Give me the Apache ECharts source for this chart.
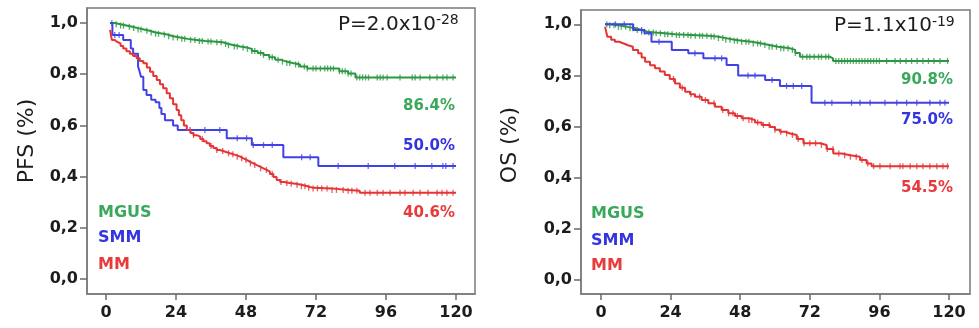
<!DOCTYPE html>
<html>
<head>
<meta charset="utf-8">
<script src="https://cdn.jsdelivr.net/npm/echarts@6/dist/echarts.min.js"></script>
<style>
  html, body { margin: 0; padding: 0; background: #fff; }
  #chart { width: 979px; height: 328px; }
</style>
</head>
<body>
<div id="chart"></div>
<script>
// Kaplan-Meier step points: [month, survival], plus censoring times (months)
const xTicks = [0, 24, 48, 72, 96, 120];
const yTicks = [0, 0.2, 0.4, 0.6, 0.8, 1.0];
const groups = ['MGUS', 'SMM', 'MM'];

// Progression-free survival
const pfsMgus = [[1.4,1],[3,0.995],[5,0.99],[7,0.985],[9,0.98],[11,0.975],[13,0.97],[15,0.963],[17,0.958],[19.6,0.955],[21,0.948],[23,0.943],[25.4,0.938],[28,0.934],[31,0.93],[34,0.928],[36.8,0.925],[40,0.918],[42,0.913],[44,0.908],[46,0.904],[48.2,0.899],[50,0.891],[52,0.883],[54,0.875],[56,0.866],[58,0.856],[60,0.849],[62,0.844],[64,0.838],[66.5,0.83],[69,0.822],[80,0.812],[83,0.803],[85.5,0.787],[120,0.787]];
const pfsSmm = [[1.4,1],[2.2,0.953],[5.9,0.934],[8.5,0.9],[9.3,0.88],[11,0.83],[11.4,0.815],[12,0.79],[12.8,0.738],[13.9,0.719],[15.5,0.70],[17,0.69],[18.3,0.668],[19,0.645],[20.2,0.62],[23,0.60],[24.6,0.582],[41.4,0.55],[50,0.523],[60.8,0.476],[72.8,0.441],[120,0.441]];
const pfsMm = [[1.4,0.973],[2,0.934],[3,0.927],[3.7,0.92],[5,0.91],[5.9,0.9],[7,0.89],[8.2,0.88],[9.3,0.871],[10.5,0.862],[11.6,0.852],[12.8,0.843],[14,0.826],[15.1,0.81],[16.2,0.793],[17.4,0.777],[18.5,0.761],[19.6,0.745],[20.8,0.726],[21.9,0.706],[23,0.683],[24.2,0.66],[25,0.64],[25.8,0.62],[26.7,0.6],[27.7,0.582],[29,0.57],[30,0.562],[31.1,0.556],[32.3,0.547],[33.4,0.538],[34.5,0.53],[35.6,0.52],[36.8,0.512],[37.9,0.504],[39,0.5],[40.2,0.495],[41.4,0.491],[42.5,0.487],[43.7,0.483],[44.8,0.478],[46,0.471],[47.1,0.465],[48.2,0.458],[49.4,0.452],[50.5,0.445],[51.7,0.439],[52.8,0.432],[54,0.426],[55.1,0.419],[56.2,0.41],[57.4,0.398],[58.5,0.387],[59.7,0.379],[61,0.375],[63,0.372],[65,0.368],[67,0.362],[69,0.356],[71,0.354],[77.3,0.348],[83,0.345],[87,0.337],[120,0.337]];

const pfsMgusCens = [2,3.5,5,6,8,9.5,11,12,14,15.5,17,18,20,21.5,23,24.5,26,27,29,30.5,32,33,35,36,38,39.5,41,42,44,45,47,48.5,50,51,53,54,56,57,59,60.5,62,63,65,66,68,69,71,72,73.5,75,76,77,78,80,81,82,83,84,86,87,88,89,90,93,94,95,96.4,100.8,105,106,107.7,111,113.5,115.5,116.9,119];
const pfsSmmCens = [3,4.5,28.8,33.9,39,45,48.2,50.5,54,57,67.1,70,79.6,89.9,99,106,111.7,115.5,116.5,119];
const pfsMmCens = [30,33,36,38,40,42,43.5,45,46.5,48,49.5,51,53,55,57,60,62,63.5,65.5,67,68.2,69.5,71,72.5,74,75.8,77.5,79,81.3,83,84.3,86,88.8,90.5,93,95,97.4,100.8,102.5,105.3,107.7,110.4,113.5,115.2,116.9,119];

// Overall survival
const osMgus = [[1.4,1],[3,0.996],[6,0.99],[9,0.985],[12,0.978],[14,0.971],[16,0.968],[18.6,0.965],[22,0.961],[25.5,0.958],[31,0.955],[36.9,0.952],[40,0.946],[43,0.94],[46,0.936],[48.5,0.932],[52,0.925],[55.4,0.919],[58,0.912],[61,0.906],[65.2,0.9],[67,0.888],[68.6,0.873],[79,0.867],[80,0.857],[120,0.857]];
const osSmm = [[1.4,1],[11.1,0.978],[15,0.965],[17.4,0.932],[24.4,0.9],[30.1,0.887],[35.3,0.867],[43.3,0.841],[47.3,0.80],[56.6,0.782],[61.7,0.759],[72.6,0.693],[120,0.693]];
const osMm = [[1.4,0.99],[1.8,0.97],[2.2,0.951],[3.5,0.94],[4.8,0.932],[6.3,0.925],[7.8,0.918],[9.3,0.912],[11,0.9],[12.8,0.887],[14,0.87],[15.2,0.854],[16.9,0.84],[18.6,0.828],[20.3,0.815],[22,0.802],[23.7,0.786],[25.5,0.769],[27.2,0.752],[29,0.736],[30.7,0.726],[32.4,0.717],[34.7,0.704],[37,0.691],[39.3,0.678],[41.6,0.665],[43.9,0.652],[46.2,0.641],[48.5,0.633],[50.8,0.626],[53.1,0.616],[55.4,0.606],[58.3,0.598],[60,0.588],[61.7,0.58],[63.5,0.573],[65.2,0.567],[67.5,0.551],[69.8,0.535],[75.5,0.528],[77.8,0.512],[80.1,0.495],[83,0.488],[85.9,0.482],[89.3,0.469],[91.6,0.456],[93.3,0.445],[120,0.445]];

const osMgusCens = [2,3,4.5,6,7,8.5,10,11,12.5,14,15,16.5,18,19,20.5,22,23,24.5,26,27,28.5,30,31,32.5,34,35,36.5,38,39,40.5,42,43,44.5,46,47,48.5,50,51,52.5,54,55,56.5,58,59,60.5,62,63,64.5,66,67,69.5,71,72,73.5,75,76,77.5,78.5,81,82,83,84,85,86,87,88,89,90,91,92,93,94,95,96,98.5,101.4,103.2,105.2,107.1,109,111,112.9,114.8,116.9,119.5];
const osSmmCens = [5,8,14,20,32.4,39.3,41.6,50.7,53.1,59,64,66.3,69.2,77.2,79.6,86.4,89.3,92.8,97.9,102,105.4,108.9,113.4,116.9,118.6];
const osMmCens = [25,28,31,34,36,39,42,44,45.5,47,49,51,52,54,56,58,60,62,64,66,68,70,72,74,76,78,80,82,84,86,88,90,92,94,96.2,99.7,103.1,104.1,106.6,108.9,111,113.4,115.8,117.9,119.5];

// Five-year rates printed beside the curves
const pfsRates = ['86.4%', '50.0%', '40.6%'];
const osRates = ['90.8%', '75.0%', '54.5%'];
const pfsP = ['P=2.0x10', '-28'];
const osP = ['P=1.1x10', '-19'];

const lineColors = ['#2b9841', '#4141e6', '#e43434'];
const textColors = ['#3aa85a', '#3535e0', '#e83a3a'];
const FONT = "'DejaVu Sans', sans-serif";

function survAt(steps, t) {
  let v = steps[0][1];
  for (const p of steps) { if (p[0] <= t) v = p[1]; else break; }
  return v;
}

function axesFor(idx, xMin, xMax, yMin, yMax) {
  const x = {
    type: 'value', gridIndex: idx, min: xMin, max: xMax,
    splitLine: { show: false },
    axisLine: { show: true, onZero: false, lineStyle: { color: '#7a7a7a', width: 1.5 } },
    axisTick: { show: true, length: 6, customValues: xTicks, lineStyle: { color: '#6a6a6a', width: 1.5 } },
    axisLabel: { customValues: xTicks, margin: 11, color: '#1c1c1c', fontFamily: FONT, fontWeight: 'bold', fontSize: 16 }
  };
  const y = {
    type: 'value', gridIndex: idx, min: yMin, max: yMax,
    splitLine: { show: false },
    axisLine: { show: true, onZero: false, lineStyle: { color: '#7a7a7a', width: 1.5 } },
    axisTick: { show: true, length: 7, customValues: yTicks, lineStyle: { color: '#6a6a6a', width: 1.5 } },
    axisLabel: { customValues: yTicks, margin: 9, color: '#1c1c1c', fontFamily: FONT, fontWeight: 'bold', fontSize: 16,
      formatter: v => v.toFixed(1).replace('.', ',') }
  };
  return [x, y];
}

function seriesFor(idx, curves, cens) {
  const out = [];
  curves.forEach((c, i) => {
    out.push({
      type: 'line', name: groups[i], xAxisIndex: idx, yAxisIndex: idx, step: 'end',
      data: c, showSymbol: false, silent: true,
      lineStyle: { color: lineColors[i], width: 2 }
    });
  });
  cens.forEach((times, i) => {
    out.push({
      type: 'scatter', xAxisIndex: idx, yAxisIndex: idx, silent: true,
      data: times.map(t => [t, survAt(curves[i], t)]),
      symbol: 'rect', symbolSize: [1.3, 6],
      itemStyle: { color: lineColors[i] }
    });
  });
  return out;
}

const pa = axesFor(0, -6.51, 126.51, -0.0586, 1.0586);
const pb = axesFor(1, -6.9, 127.24, -0.0548, 1.056);

function txt(x, y, text, opts) {
  return Object.assign({
    type: 'text', x: x, y: y, silent: true,
    style: Object.assign({ text: text, fontFamily: FONT, fill: '#1c1c1c',
      align: 'left', verticalAlign: 'middle', textAlign: 'left', textVerticalAlign: 'middle' }, opts.style)
  }, opts.el || {});
}

function panelText(legendX, legendYs, rateX, rateYs, rates, pX, pY, pText, title, titleX, titleY) {
  const els = [];
  groups.forEach((g, i) => {
    els.push(txt(legendX, legendYs[i], g, { style: { fontSize: 16, fontWeight: 'bold', fill: textColors[i] } }));
    els.push(txt(rateX, rateYs[i], rates[i], { style: { fontSize: 15, fontWeight: 'bold', fill: textColors[i], align: 'right', textAlign: 'right' } }));
  });
  els.push({
    type: 'text', x: pX, y: pY, silent: true,
    style: {
      text: '{m|' + pText[0] + '}{s|' + pText[1] + '}',
      align: 'left', verticalAlign: 'middle',
      rich: {
        m: { fontFamily: FONT, fontSize: 20, fill: '#1c1c1c', lineHeight: 22 },
        s: { fontFamily: FONT, fontSize: 14, fill: '#1c1c1c', verticalAlign: 'top', lineHeight: 14 }
      }
    }
  });
  els.push(txt(titleX, titleY, title, { style: { fontSize: 22, align: 'center', textAlign: 'center' }, el: { rotation: Math.PI / 2 } }));
  return els;
}

const chart = echarts.init(document.getElementById('chart'), null, { renderer: 'canvas' });
chart.setOption({
  animation: false,
  backgroundColor: '#fff',
  grid: [
    { left: 87, top: 8, width: 388, height: 286, show: true, borderColor: '#7a7a7a', borderWidth: 1.5, containLabel: false },
    { left: 581, top: 10, width: 389, height: 284, show: true, borderColor: '#7a7a7a', borderWidth: 1.5, containLabel: false }
  ],
  xAxis: [pa[0], pb[0]],
  yAxis: [pa[1], pb[1]],
  series: [].concat(
    seriesFor(0, [pfsMgus, pfsSmm, pfsMm], [pfsMgusCens, pfsSmmCens, pfsMmCens]),
    seriesFor(1, [osMgus, osSmm, osMm], [osMgusCens, osSmmCens, osMmCens])
  ),
  graphic: [].concat(
    panelText(98, [212.5, 238, 264.5], 455, [106, 146, 213], pfsRates, 338, 24.5, pfsP, 'PFS (%)', 27, 141),
    panelText(591, [214, 241, 266], 953, [80.5, 120, 188.5], osRates, 834, 26, osP, 'OS (%)', 510, 145)
  )
});
</script>
</body>
</html>
